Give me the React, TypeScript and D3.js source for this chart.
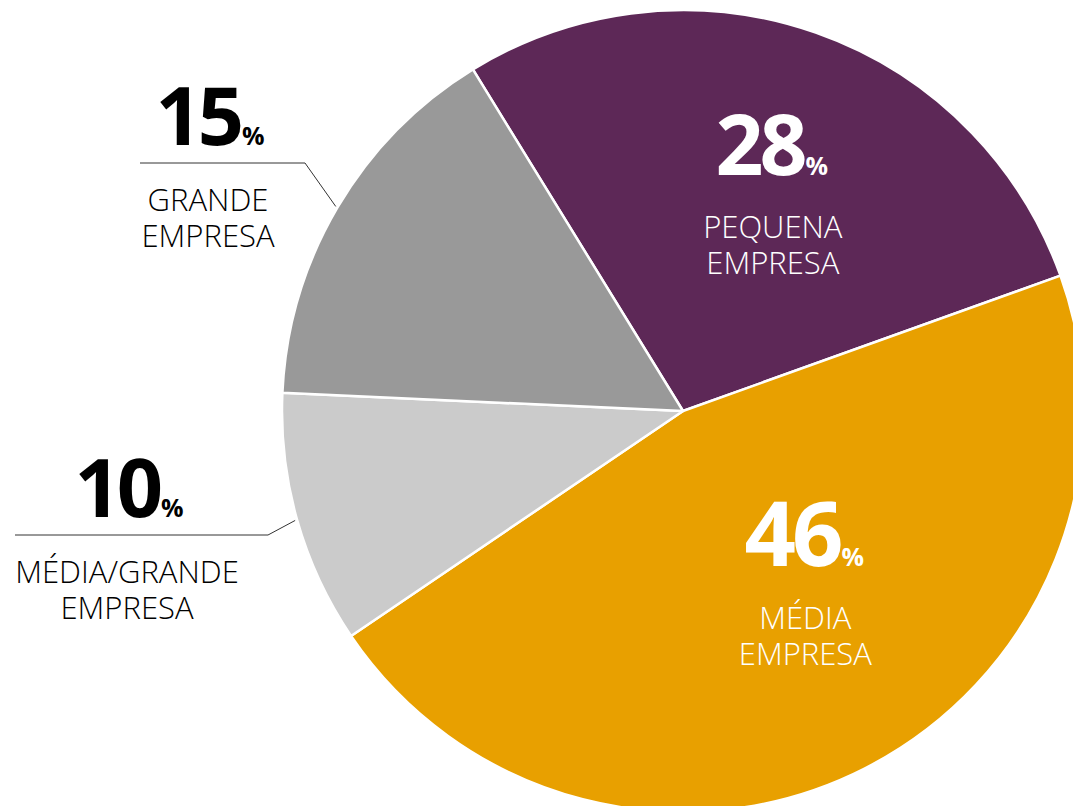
import React from "react";
import * as d3 from "d3";

const categories = ["PEQUENA EMPRESA", "MÉDIA EMPRESA", "MÉDIA/GRANDE EMPRESA", "GRANDE EMPRESA"];
const values = [28.3, 46.0, 10.2, 15.5];
const displayValues = [28, 46, 10, 15];
const colors = ["#5D2857", "#E8A000", "#CBCBCB", "#999999"];
const labelLines = [["PEQUENA", "EMPRESA"], ["MÉDIA", "EMPRESA"], ["MÉDIA/GRANDE", "EMPRESA"], ["GRANDE", "EMPRESA"]];

const W = 1073, H = 806;
const cx = 683, cy = 411, R = 401;
const startDeg = -31.6;

export default function App() {
  const pie = d3.pie<number>().sort(null).value(d => d)
    .startAngle((startDeg * Math.PI) / 180)
    .endAngle((startDeg * Math.PI) / 180 + 2 * Math.PI);
  const arcs = pie(values);
  const arc = d3.arc<d3.PieArcDatum<number>>().innerRadius(0).outerRadius(R);
  const font = "'Open Sans', sans-serif";

  const inside: Record<number, { r: number; dx: number; dy: number; size: number; lh: number }> = {
    0: { r: 232, dx: 10, dy: -17, size: 84, lh: 36 },
    1: { r: 215, dx: 22, dy: -37, size: 90, lh: 36 },
  };
  const outside: Record<number, { ex: number; ey: number; lineLeft: number; size: number }> = {
    2: { ex: 268, ey: 535, lineLeft: 15, size: 81 },
    3: { ex: 305, ey: 163, lineLeft: 140, size: 81 },
  };

  return (
    <svg width={W} height={H} style={{ position: "absolute", left: 0, top: 0, background: "#fff" }}>
      <g transform={`translate(${cx},${cy})`}>
        {arcs.map((a, i) => (
          <path key={i} d={arc(a) || ""} fill={colors[i]} stroke="#fff" strokeWidth={2.5} strokeLinejoin="round" />
        ))}
      </g>
      {arcs.map((a, i) => {
        const mid = (a.startAngle + a.endAngle) / 2;
        if (inside[i]) {
          const c = inside[i];
          const x = cx + Math.sin(mid) * c.r + c.dx;
          const y = cy - Math.cos(mid) * c.r + c.dy;
          return (
            <g key={"l" + i} fill="#fff">
              <text x={x} y={y} textAnchor="middle" fontFamily={font} fontWeight={700} fontSize={c.size} letterSpacing={-4}>
                {displayValues[i]}
                <tspan fontSize={25} dx={2}>%</tspan>
              </text>
              <text textAnchor="middle" fontFamily={font} fontWeight={300} fontSize={31}>
                {labelLines[i].map((t, k) => (
                  <tspan key={k} x={x + 3} y={y + 63 + k * c.lh}>{t}</tspan>
                ))}
              </text>
            </g>
          );
        }
        const o = outside[i];
        const px = cx + Math.sin(mid) * (R + 2);
        const py = cy - Math.cos(mid) * (R + 2);
        const tx = (o.lineLeft + o.ex) / 2 - 14.5;
        return (
          <g key={"l" + i}>
            <polyline points={`${px},${py} ${o.ex},${o.ey} ${o.lineLeft},${o.ey}`} fill="none" stroke="#333" strokeWidth={1} />
            <text x={tx} y={o.ey - 18} textAnchor="middle" fontFamily={font} fontWeight={700} fontSize={o.size} letterSpacing={-4} fill="#000">
              {displayValues[i]}
              <tspan fontSize={25} dx={2}>%</tspan>
            </text>
            <text textAnchor="middle" fontFamily={font} fontWeight={300} fontSize={31} fill="#000">
              {labelLines[i].map((t, k) => (
                <tspan key={k} x={tx} y={o.ey + 48 + k * 35.5}>{t}</tspan>
              ))}
            </text>
          </g>
        );
      })}
    </svg>
  );
}
